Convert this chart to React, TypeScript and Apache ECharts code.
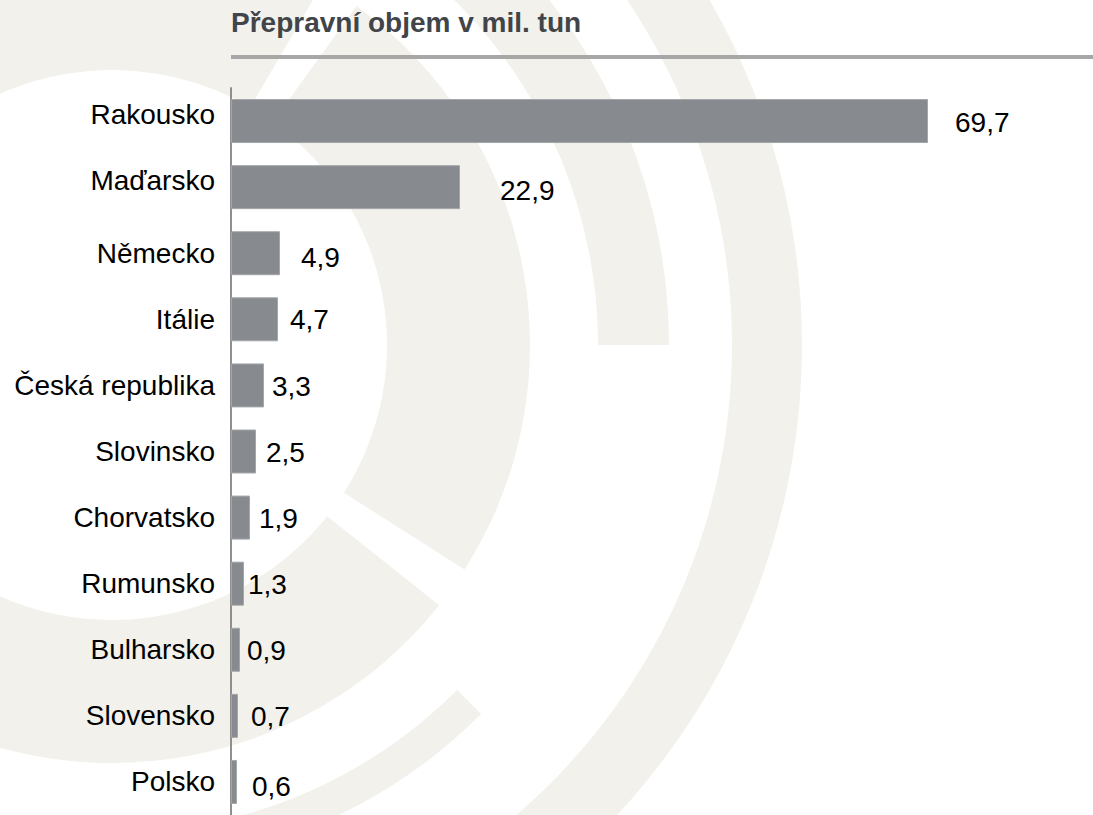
import React, { useEffect, useRef } from "react";
import * as echarts from "echarts";

// ---- data ----
const countries = [
  "Rakousko",
  "Maďarsko",
  "Německo",
  "Itálie",
  "Česká republika",
  "Slovinsko",
  "Chorvatsko",
  "Rumunsko",
  "Bulharsko",
  "Slovensko",
  "Polsko",
];
const volumes = [69.7, 22.9, 4.9, 4.7, 3.3, 2.5, 1.9, 1.3, 0.9, 0.7, 0.6];
const chartTitle = "Přepravní objem v mil. tun";

// ---- label placement tweaks (px) ----
const valueLabelGap = [27, 40, 21, 12, 8, 10, 9, 4, 7, 13, 15];
const valueLabelShift = [1, 3, 4, 0, 1, 1, 1, 1, 1, 1, 5];
const raisedCategoryLabels = ["Rakousko", "Maďarsko"];

const FONT = '"Liberation Sans", Arial, Helvetica, sans-serif';
const BAR = "#878b8f";
const BEIGE = "#f2f1ec";

const deg = Math.PI / 180;
const CX = 112;
const CY = 345;

function fmt(v: number) {
  return v.toFixed(1).replace(".", ",");
}

export default function App() {
  const ref = useRef<HTMLDivElement>(null);

  useEffect(() => {
    if (!ref.current) return;
    const chart = echarts.init(ref.current, undefined, { renderer: "svg" });

    const bgStyle = { fill: BEIGE };
    const background = [
      {
        type: "sector",
        z: 0,
        silent: true,
        shape: { cx: CX, cy: CY, r0: 275, r: 418, startAngle: -54.2 * deg, endAngle: 32.5 * deg, clockwise: true },
        style: bgStyle,
      },
      {
        type: "sector",
        z: 0,
        silent: true,
        shape: { cx: CX, cy: CY, r0: 275, r: 418, startAngle: 38.5 * deg, endAngle: 300.2 * deg, clockwise: true },
        style: bgStyle,
      },
      {
        type: "sector",
        z: 0,
        silent: true,
        shape: { cx: CX, cy: CY, r0: 486, r: 557, startAngle: 180 * deg, endAngle: 360 * deg, clockwise: true },
        style: bgStyle,
      },
      {
        type: "sector",
        z: 0,
        silent: true,
        shape: { cx: CX, cy: CY, r0: 488, r: 522, startAngle: 45 * deg, endAngle: 180 * deg, clockwise: true },
        style: bgStyle,
      },
      {
        type: "ring",
        z: 0,
        silent: true,
        shape: { cx: CX, cy: CY, r0: 620, r: 690 },
        style: bgStyle,
      },
    ];

    const option: any = {
      animation: false,
      backgroundColor: "#ffffff",
      graphic: [
        ...background,
        {
          type: "line",
          z: 1,
          silent: true,
          shape: { x1: 231, y1: 57, x2: 1093, y2: 57 },
          style: { stroke: "#a7a7a7", lineWidth: 4 },
        },
        {
          type: "text",
          z: 1,
          x: 231,
          y: 22,
          silent: true,
          style: {
            text: chartTitle,
            fontSize: 28,
            fontWeight: "bold",
            fontFamily: FONT,
            fill: "#414549",
            align: "left",
            verticalAlign: "middle",
          },
        },
      ],
      grid: { left: 231, top: 88, width: 862, height: 730, containLabel: false },
      xAxis: {
        type: "value",
        min: 0,
        max: 86.2,
        show: false,
        splitLine: { show: false },
      },
      yAxis: {
        type: "category",
        inverse: true,
        data: countries,
        axisLine: { show: true, lineStyle: { color: "#8f8f8f", width: 2 } },
        axisTick: { show: false },
        splitLine: { show: false },
        axisLabel: {
          margin: 16,
          color: "#000000",
          fontSize: 28,
          fontFamily: FONT,
          formatter: (v: string) =>
            raisedCategoryLabels.indexOf(v) >= 0 ? "{up|" + v + "}" : "{n|" + v + "}",
          rich: {
            up: { fontSize: 28, fontFamily: FONT, color: "#000000", padding: [0, 0, 13, 0] },
            n: { fontSize: 28, fontFamily: FONT, color: "#000000" },
          },
        },
      },
      series: [
        {
          type: "bar",
          barWidth: 44,
          z: 2,
          itemStyle: { color: BAR, borderColor: "#a4a7aa", borderWidth: 1 },
          label: {
            show: true,
            position: "right",
            color: "#000000",
            fontSize: 28,
            fontFamily: FONT,
            formatter: (p: any) => fmt(p.value),
          },
          data: volumes.map((v, i) => ({
            value: v,
            label: { distance: valueLabelGap[i], offset: [0, valueLabelShift[i]] },
          })),
        },
      ],
    };

    chart.setOption(option);
    return () => chart.dispose();
  }, []);

  return (
    <div
      ref={ref}
      style={{ position: "fixed", left: 0, top: 0, width: 1093, height: 815, background: "#fff" }}
    />
  );
}
